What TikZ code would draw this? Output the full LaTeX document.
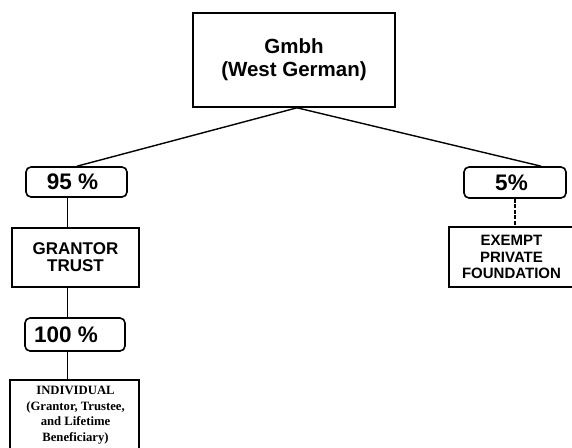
\documentclass[tikz,border=0pt]{standalone}
\usepackage{fontspec}
\setmainfont{Liberation Sans}
\newfontfamily\serifbf{Liberation Serif}
\usetikzlibrary{calc}
\begin{document}
\begin{tikzpicture}[x=1pt,y=1pt,
  box/.style={draw, line width=1.6pt, align=center, inner sep=0pt, font=\bfseries},
  pct/.style={draw, line width=1.6pt, rounded corners=5pt, align=center, inner sep=0pt, font=\bfseries\fontsize{22.5}{24}\selectfont},
  link/.style={line width=1.4pt}]
\useasboundingbox (0,0) rectangle (572,447);
\clip (0,0) rectangle (572,447);
\node[box, minimum width=202pt, minimum height=94pt, font=\bfseries\fontsize{20.5}{23}\selectfont] (gmbh) at (294,387) {Gmbh\\(West German)};
\node[pct, minimum width=101pt, minimum height=30pt] (p95) at (76.5,265) {95 \%\hspace{8pt}};
\node[box, minimum width=127pt, minimum height=59pt, font=\bfseries\fontsize{17}{17}\selectfont] (grantor) at (75.5,189.5) {GRANTOR\\TRUST};
\node[pct, minimum width=100pt, minimum height=33pt] (p100) at (75,112.5) {100 \%\hspace{18pt}};
\node[box, minimum width=129pt, minimum height=71pt, anchor=north] (indiv) at (74.5,68) {};
\node[align=center, inner sep=0pt, anchor=north, font=\serifbf\bfseries\fontsize{12.7}{15.5}\selectfont] (indivtext) at (75.5,61) {INDIVIDUAL\\(Grantor, Trustee,\\and Lifetime\\Beneficiary)};
\node[pct, minimum width=102pt, minimum height=31pt] (p5) at (515,264.5) {5\%\hspace{7pt}};
\node[box, minimum width=125pt, minimum height=60pt, font=\bfseries\fontsize{15}{16.5}\selectfont] (exempt) at (511.5,190) {EXEMPT\\PRIVATE\\FOUNDATION};
\coordinate (apex) at ([xshift=3pt]gmbh.south);
\draw[link] (apex) -- ([xshift=0.5pt]p95.north);
\draw[link] (apex) -- (p5.32);
\coordinate (v1) at ([xshift=-9pt]p95.south);
\draw[link] (v1) -- (v1 |- grantor.north);
\coordinate (v2) at (v1 |- grantor.south);
\draw[link] (v2) -- (v2 |- p100.north);
\coordinate (v3) at (v1 |- p100.south);
\draw[link] (v3) -- (v3 |- indiv.north);
\draw[link, dash pattern=on 4pt off 1.5pt] (p5.south) -- (exempt.north -| p5.south);
\end{tikzpicture}
\end{document}
